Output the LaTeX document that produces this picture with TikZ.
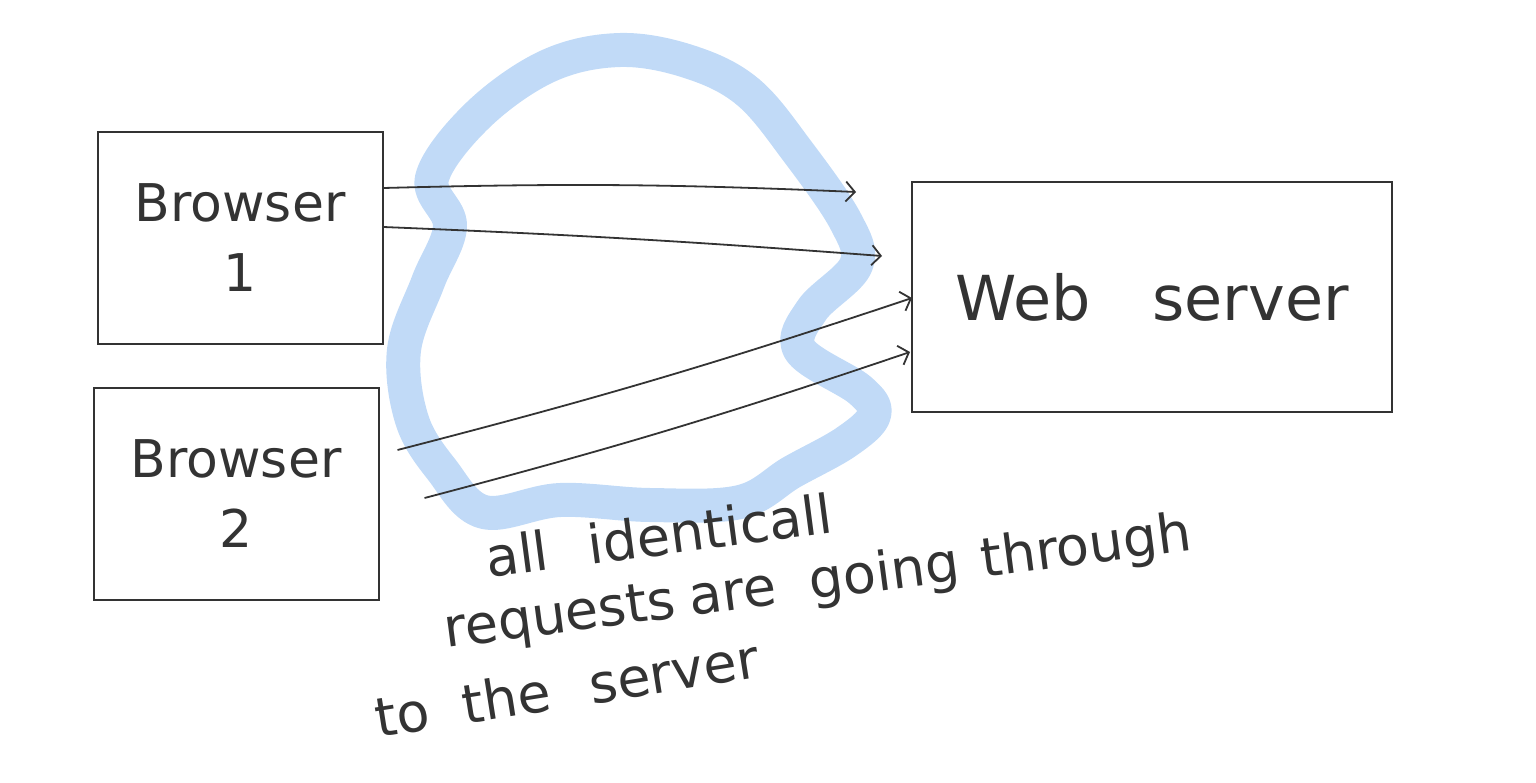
\documentclass[tikz,border=0pt]{standalone}
\usepackage{fontspec}
\usepackage{tikz}
\usetikzlibrary{positioning,arrows.meta}
\newfontfamily\handfont{DejaVu Sans}
\definecolor{inkGray}{HTML}{333333}
\definecolor{blobBlue}{HTML}{A6CBF4}

\begin{document}
\begin{tikzpicture}[
  x=1pt, y=-1pt,
  font=\handfont,
  >={Straight Barb[length=9pt,width=20pt]},
  %% Node styles
  box/.style={
    draw=inkGray, line width=2pt, text=inkGray,
    minimum width=285pt, minimum height=212pt, align=center,
    font=\handfont\fontsize{52}{70}\selectfont
  },
  note/.style={
    anchor=base west, text=inkGray, inner sep=0pt,
    font=\handfont\fontsize{54}{60}\selectfont
  },
  %% Arrow styles
  req/.style={->, line width=1.8pt, draw=inkGray},
]
\useasboundingbox (0,0) rectangle (1536,782);

%% -- Cache blob ------------------------------------------------------------
\draw[blobBlue, line width=34pt, opacity=0.7, line join=round]
  plot[smooth cycle, tension=0.6] coordinates {
    (432,178) (478,115) (548,66) (620,50) (690,62) (748,92)
    (798,152) (846,222) (856,265) (812,310) (800,350) (860,390)
    (874,415) (846,442) (792,472) (740,502) (650,505) (560,500)
    (484,512) (442,470) (412,420) (404,350) (428,282) (450,226)};

%% -- Browsers and server ---------------------------------------------------
\node[box] (br1) at (240,238) {Browser\\1};
\node[box] (br2) at (236,494) {Browser\\2};
\node[box, minimum width=480pt, minimum height=230pt,
      font=\handfont\fontsize{62}{70}\selectfont]
  (web) at (1152,297) {Web\quad server};

%% arrow tips
\coordinate (tip1) at (856,192);
\coordinate (tip2) at (882,256);
\coordinate (tip3) at (912,298);
\coordinate (tip4) at (910,352);

%% -- Requests --------------------------------------------------------------
\draw[req] ([yshift=50pt]br1.east) to[bend left=2] (tip1);
\draw[req] ([yshift=11pt]br1.east) to[bend left=1] (tip2);
\draw[req] ([xshift=18pt,yshift=44pt]br2.east) to[bend right=2] (tip3);
\draw[req] ([xshift=45pt,yshift=-4pt]br2.east) to[bend right=2] (tip4);

%% -- Annotation ------------------------------------------------------------
\node[note, rotate=7.5] (note1) at (488,578) {all\hspace{40pt}identicall};
\node[note, rotate=7.5] (note2) at (446,648) {requests\hspace{14pt}are\hspace{34pt}going\hspace{22pt}through};
\node[note, rotate=9] (note3) at (378,738) {to\hspace{34pt}the\hspace{40pt}server};

\end{tikzpicture}
\end{document}
